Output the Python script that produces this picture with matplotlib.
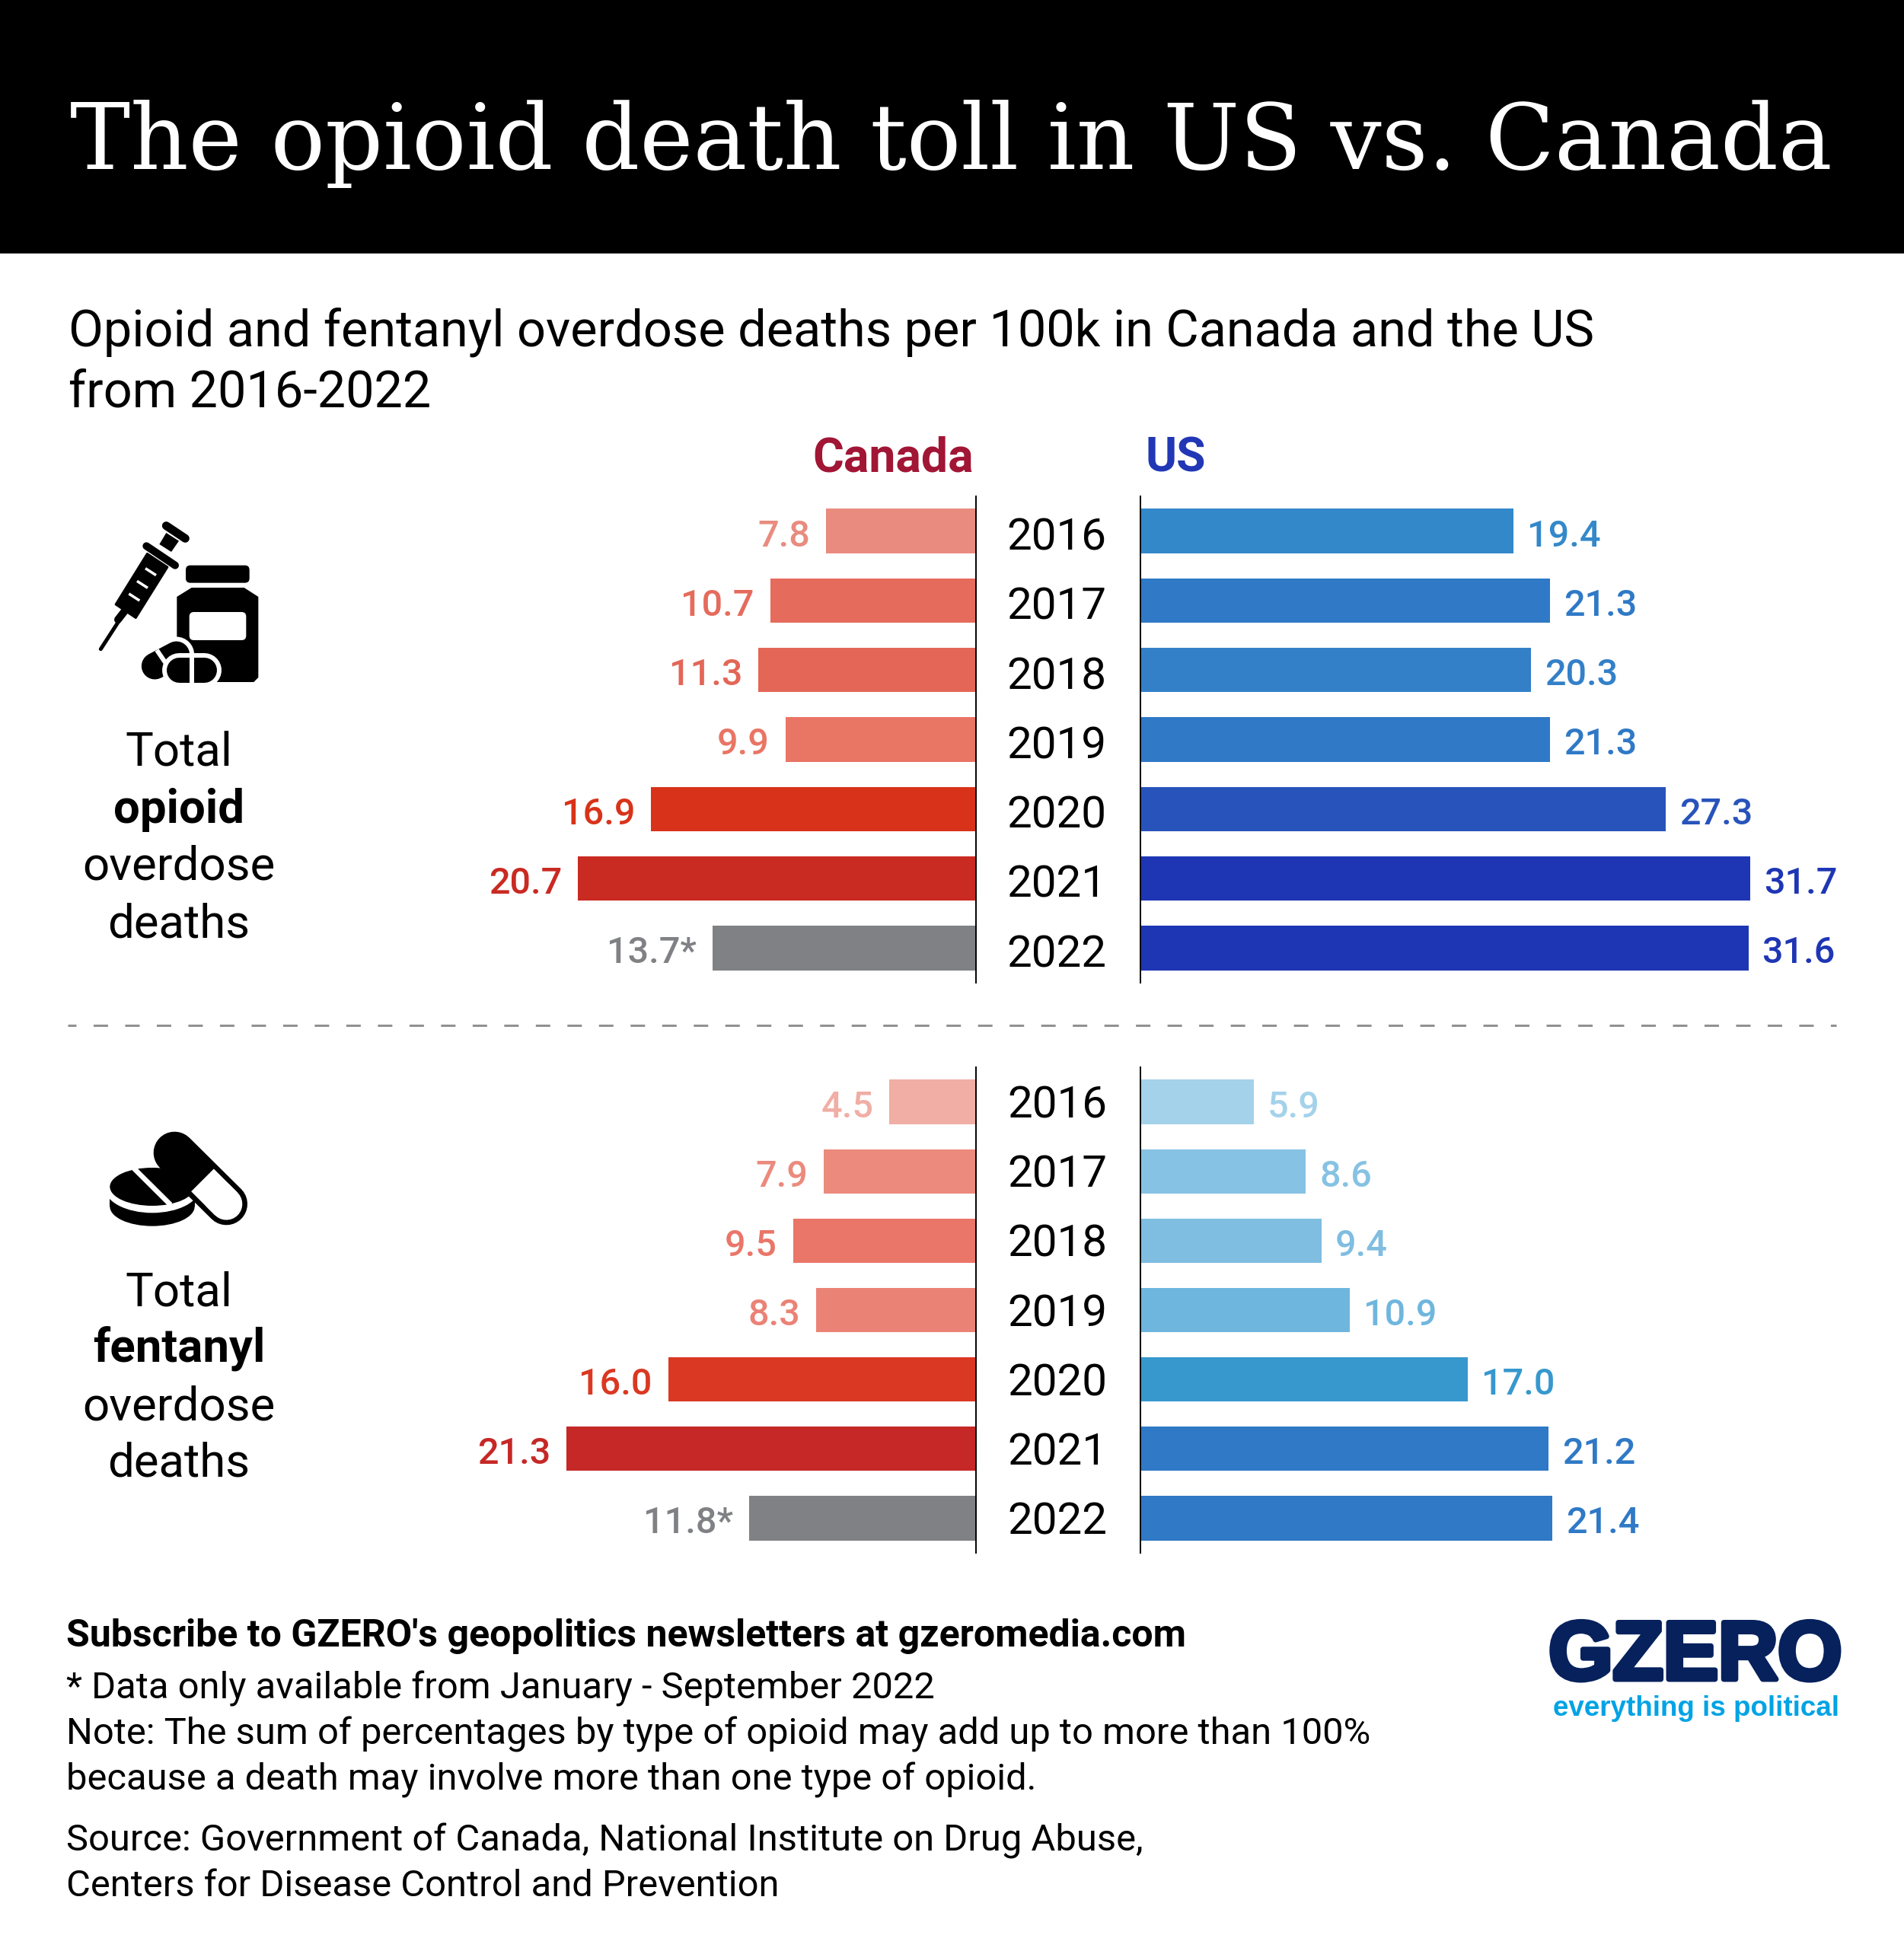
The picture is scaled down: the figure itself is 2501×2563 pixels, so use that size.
import matplotlib
matplotlib.use("Agg")
import matplotlib.pyplot as plt
import matplotlib.patheffects as pe
from matplotlib.patches import Ellipse, FancyBboxPatch, Polygon, Rectangle
from matplotlib.lines import Line2D

W, H = 2501, 2563
plt.rcParams['font.family'] = ['Roboto', 'DejaVu Sans']

years = [2016, 2017, 2018, 2019, 2020, 2021, 2022]

canada_opioid = [7.8, 10.7, 11.3, 9.9, 16.9, 20.7, 13.7]
us_opioid = [19.4, 21.3, 20.3, 21.3, 27.3, 31.7, 31.6]
canada_fentanyl = [4.5, 7.9, 9.5, 8.3, 16.0, 21.3, 11.8]
us_fentanyl = [5.9, 8.6, 9.4, 10.9, 17.0, 21.2, 21.4]

canada_opioid_colors = ['#E98B7F', '#E56B5C', '#E36657', '#E97565', '#D8331A', '#C92A22', '#808184']
us_opioid_colors = ['#3388CA', '#2F79C6', '#3380C8', '#2F79C6', '#2853BB', '#1E36B4', '#1E36B4']
canada_fentanyl_colors = ['#F0AEA5', '#EB8A7D', '#E97669', '#EB8276', '#DA3822', '#C52826', '#808184']
us_fentanyl_colors = ['#A4D2EA', '#86C2E3', '#7FBDE1', '#6FB6DE', '#3798CE', '#2F79C6', '#2F79C6']

PX_PER_UNIT = 25.27
AXIS_CANADA = 1282
AXIS_US = 1498
CANADA_MAX = 25
US_MAX = 36


def pt(px):
    return px * 72 / 100


def bar_axes(fig, left, right, top, bottom):
    return fig.add_axes([left / W, 1 - bottom / H, (right - left) / W, (bottom - top) / H])


# Одна половина диаграммы
def draw_side(ax, values, colors, canada, label_dy, year_dy=0, year_dx=0):
    ax.barh(range(len(values)), values, height=0.64, color=colors, linewidth=0, zorder=1)
    ax.set_ylim(len(values) - 0.5, -0.5)
    ax.set_xticks([])
    ax.set_yticks([])
    ax.patch.set_visible(False)
    for side in ax.spines:
        ax.spines[side].set_visible(False)
    if canada:
        ax.set_xlim(CANADA_MAX, 0)
        ax.spines['right'].set_visible(True)
        ax.spines['right'].set_linewidth(1.4)
    else:
        ax.set_xlim(0, US_MAX)
        ax.spines['left'].set_visible(True)
        ax.spines['left'].set_linewidth(1.4)
    for i, v in enumerate(values):
        label = f"{v:.1f}"
        if canada and years[i] == 2022:
            label += "*"
        offset = -15 if canada else 13
        ax.annotate(label, xy=(v, i), xytext=(offset, label_dy), textcoords='offset points',
                    ha='right' if canada else 'left', va='center', fontsize=35,
                    fontweight='medium', color=colors[i])
        if canada:
            ax.annotate(str(years[i]), xy=(0, i), xytext=(pt(107 + year_dx), year_dy), textcoords='offset points',
                        ha='center', va='center', fontsize=42, color='black')


def line(ax, pts, width, color='black', cap='round'):
    xs = [p[0] for p in pts]
    ys = [p[1] for p in pts]
    ax.add_line(Line2D(xs, ys, lw=pt(width), color=color, solid_capstyle=cap, solid_joinstyle='round'))


def rrect(ax, x0, y0, x1, y1, r, color):
    ax.add_patch(FancyBboxPatch((x0 + r, y0 + r), x1 - x0 - 2 * r, y1 - y0 - 2 * r,
                                boxstyle=f"round,pad={r}", fc=color, ec='none'))


# Иконка: шприц, банка и таблетки
def draw_syringe_icon(ax):
    z = lambda x, y: (80 + x / 3, 640 + y / 3)
    line(ax, [z(157, 638), z(230, 525)], 5)
    line(ax, [z(225, 522), z(250, 490)], 10)
    ax.add_patch(Polygon([z(216, 462), z(340, 262), z(420, 315), z(295, 515)],
                         fc='black', ec='black', lw=2, joinstyle='round'))
    line(ax, [z(337, 232), z(450, 308)], 10)
    ax.add_patch(Polygon([z(415, 180), z(465, 212), z(435, 255), z(388, 225)], fc='black', ec='none'))
    line(ax, [z(415, 152), z(490, 202)], 11)
    for a, b in [((333, 320), (375, 347)), ((300, 370), (342, 397)), ((268, 420), (310, 447))]:
        line(ax, [z(*a), z(*b)], 3.5, 'white', 'butt')

    x0, y0 = z(492, 308)
    x1, y1 = z(743, 377)
    rrect(ax, x0, y0, x1, y1, 6, 'black')
    ax.add_patch(Polygon([z(515, 396), z(722, 396), z(778, 432), z(778, 750), z(760, 768),
                          z(475, 768), z(457, 750), z(457, 432)], fc='black', ec='none'))
    x0, y0 = z(506, 492)
    x1, y1 = z(730, 603)
    rrect(ax, x0, y0, x1, y1, 6, 'white')

    # таблетки поверх банки
    line(ax, [z(370, 705), z(455, 660)], 47, 'white')
    line(ax, [z(370, 705), z(455, 660)], 35)
    line(ax, [z(378, 642), z(412, 692)], 6, 'white', 'butt')
    line(ax, [z(465, 720), z(565, 720)], 45, 'white')
    line(ax, [z(465, 720), z(565, 720)], 33)
    line(ax, [z(515, 655), z(515, 780)], 6, 'white', 'butt')


# Иконка: капсула и таблетка
def draw_pill_icon(ax):
    z = lambda x, y: (100 + x / 3, 1450 + y / 3)
    line(ax, [z(388, 193), z(592, 395)], 166 / 3)
    line(ax, [z(498, 301), z(592, 395)], 126 / 3, 'white', 'butt')
    line(ax, [z(560, 363), z(592, 395)], 126 / 3, 'white')

    ax.add_patch(Ellipse(z(300, 405), 334 / 3, 154 / 3, fc='black', ec='none'))
    ax.add_patch(Rectangle(z(133, 370), 334 / 3, 35 / 3, fc='black', ec='none'))
    ax.add_patch(Ellipse(z(300, 330), 376 / 3, 200 / 3, fc='white', ec='none'))
    ax.add_patch(Ellipse(z(300, 327), 334 / 3, 150 / 3, fc='black', ec='none'))
    line(ax, [z(225, 252), z(372, 398)], 20 / 3, 'white', 'butt')


fig = plt.figure(figsize=(W / 100, H / 100), dpi=100, facecolor='white')

deco = fig.add_axes([0, 0, 1, 1], zorder=0)
deco.set_xlim(0, W)
deco.set_ylim(H, 0)
deco.axis('off')

deco.add_patch(Rectangle((0, 0), W, 333, fc='black', ec='none'))
deco.text(W / 2 - 1, 222, "The opioid death toll in US vs. Canada", color='white', fontsize=85.5,
          family='DejaVu Serif', ha='center', va='baseline')

deco.text(90, 455, "Opioid and fentanyl overdose deaths per 100k in Canada and the US",
          fontsize=48, va='baseline')
deco.text(90, 535, "from 2016-2022", fontsize=48, va='baseline')

deco.text(1279, 619, "Canada", color='#A11535', fontsize=45, fontweight='bold', ha='right', va='baseline')
deco.text(1505, 619, "US", color='#2137B5', fontsize=45, fontweight='bold', ha='left', va='baseline')

deco.add_line(Line2D([89, 2412], [1347, 1347], color='#919191', lw=2.16,
                     linestyle=(2.67, (6.33, 7.5)), dash_capstyle='butt'))

top_rows = ["Total", "opioid", "overdose", "deaths"]
bottom_rows = ["Total", "fentanyl", "overdose", "deaths"]
for rows, baselines in [(top_rows, [1006, 1081, 1156, 1231]), (bottom_rows, [1715, 1790, 1865, 1940])]:
    for j, (row, y) in enumerate(zip(rows, baselines)):
        deco.text(235, y, row, fontsize=44.5, ha='center', va='baseline',
                  fontweight='bold' if j == 1 else 'normal')

draw_syringe_icon(deco)
draw_pill_icon(deco)

deco.text(87, 2163, "Subscribe to GZERO's geopolitics newsletters at gzeromedia.com",
          fontsize=36, fontweight='bold', va='baseline')
footer_lines = [
    (2231, "* Data only available from January - September 2022"),
    (2291, "Note: The sum of percentages by type of opioid may add up to more than 100%"),
    (2351, "because a death may involve more than one type of opioid."),
    (2431, "Source: Government of Canada, National Institute on Drug Abuse,"),
    (2491, "Centers for Disease Control and Prevention"),
]
for y, txt in footer_lines:
    deco.text(87, y, txt, fontsize=35.2, va='baseline')

deco.text(2227, 2206, "GZERO", color='#06215C', fontsize=78, family='Liberation Sans', fontweight='bold',
          ha='center', va='baseline', path_effects=[pe.withStroke(linewidth=5, foreground='#06215C')])
deco.text(2228, 2254, "everything is political", color='#00A3E4', fontsize=26.5, family='Liberation Sans',
          fontweight='bold', ha='center', va='baseline')

canada_width = CANADA_MAX * PX_PER_UNIT
us_width = US_MAX * PX_PER_UNIT

ax_c1 = bar_axes(fig, AXIS_CANADA - canada_width, AXIS_CANADA, 652, 1291)
ax_u1 = bar_axes(fig, AXIS_US, AXIS_US + us_width, 652, 1291)
ax_c2 = bar_axes(fig, AXIS_CANADA - canada_width, AXIS_CANADA, 1402, 2040)
ax_u2 = bar_axes(fig, AXIS_US, AXIS_US + us_width, 1402, 2040)

draw_side(ax_c1, canada_opioid, canada_opioid_colors, True, -5, year_dy=-6.7, year_dx=-1)
draw_side(ax_u1, us_opioid, us_opioid_colors, False, -5)
draw_side(ax_c2, canada_fentanyl, canada_fentanyl_colors, True, -5, year_dy=-4, year_dx=0)
draw_side(ax_u2, us_fentanyl, us_fentanyl_colors, False, -5)

fig.savefig("out.png", dpi=100)
